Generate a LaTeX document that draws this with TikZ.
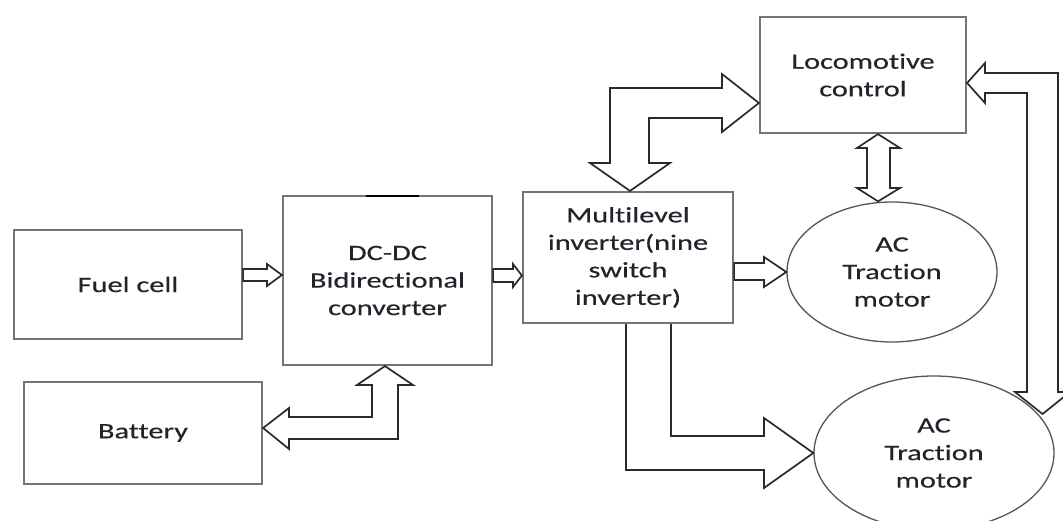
\documentclass[tikz,border=0pt]{standalone}
\usepackage{fontspec}
\newfontfamily\lbl[FakeStretch=1.38,FakeBold=0.35,Ligatures=NoCommon]{Carlito}
\usetikzlibrary{shapes.geometric}
\definecolor{boxgray}{HTML}{757575}
\definecolor{ellgray}{HTML}{555555}
\definecolor{arrowdark}{HTML}{2A2A2A}
\definecolor{txt}{HTML}{25222C}
\begin{document}
\begin{tikzpicture}[x=1pt,y=-1pt,
  lbltext/.style={align=center,text=txt,font=\lbl\fontsize{22}{27.5}\selectfont},
  blk/.style={draw=boxgray,line width=2.2pt,fill=white,inner sep=0pt,lbltext},
  ell/.style={ellipse,draw=ellgray,line width=1.3pt,fill=white,inner sep=0pt,lbltext},
  barrow/.style={draw=arrowdark,line width=1.7pt,fill=white,line join=miter}]
\useasboundingbox (0,0) rectangle (1063,520);
\clip (0,0) rectangle (1063,520);

% blocks
\node[blk,minimum width=228pt,minimum height=109pt] (fc)   at (128,284.5) {Fuel cell};
\node[blk,minimum width=209pt,minimum height=169pt] (dc)   at (387.5,280.5) {DC-DC\\Bidirectional\\converter};
\node[blk,minimum width=238pt,minimum height=102pt] (bat)  at (143,433) {Battery};
\node[blk,minimum width=210pt,minimum height=131pt] (ml)   at (628,257.5) {Multilevel\\inverter(nine\\switch\\inverter)};
\node[blk,minimum width=206pt,minimum height=116pt] (loco) at (863,75) {Locomotive\\control};

% traction motors
\node[ell,minimum width=210pt,minimum height=140pt] (m1) at (892,272) {AC\\Traction\\motor};
\node[ell,minimum width=240pt,minimum height=154pt] (m2) at (934,453) {AC\\Traction\\motor};

% short mark on the converter's top edge
\draw[black,line width=1.6pt] (366,196) -- (419,196);

% fuel cell -> converter
\draw[barrow] (fc.east |- 0,269) -- (267,269) -- (267,264) -- (dc.west |- 0,275)
  -- (267,286) -- (267,281) -- (fc.east |- 0,281) -- cycle;

% converter -> inverter
\draw[barrow] (dc.east |- 0,269) -- (513,269) -- (513,264) -- (ml.west |- 0,275.5)
  -- (513,287) -- (513,282) -- (dc.east |- 0,282) -- cycle;

% inverter -> upper motor
\draw[barrow] (ml.east |- 0,263) -- (764,263) -- (764,257) -- (m1.west)
  -- (764,287) -- (764,280) -- (ml.east |- 0,280) -- cycle;

% battery <-> converter
\draw[barrow] (385,0 |- dc.south) -- (413,385) -- (398,385) -- (398,439) -- (289,439)
  -- (289,449) -- (bat.east |- 0,428) -- (289,408) -- (289,417) -- (372,417)
  -- (372,385) -- (357,385) -- cycle;

% inverter <-> locomotive control
\draw[barrow] (630,0 |- ml.north) -- (670,163) -- (649,163) -- (649,118) -- (722,118)
  -- (722,132) -- (loco.west |- 0,103) -- (722,74) -- (722,88) -- (610,88)
  -- (610,163) -- (590,163) -- cycle;

% locomotive control <-> upper motor
\draw[barrow] (878,0 |- loco.south) -- (900,148) -- (890,148) -- (890,188) -- (900,188)
  -- (878,0 |- m1.north) -- (857,188) -- (867,188) -- (867,148) -- (857,148) -- cycle;

% inverter -> lower motor
\draw[barrow] (626,0 |- ml.south) -- (626,470) -- (764,470) -- (764,488) -- (m2.west)
  -- (764,418) -- (764,436) -- (671,436) -- (671,0 |- ml.south);

% locomotive control <-> lower motor
\coordinate (m2in) at (1042.5,414);
\draw[barrow] (loco.east |- 0,83) -- (985,63) -- (985,73) -- (1058,73) -- (1058,392)
  -- (1070,392) -- (m2in) -- (1015,392) -- (1027,392) -- (1027,93) -- (985,93)
  -- (985,103) -- cycle;
\end{tikzpicture}
\end{document}
